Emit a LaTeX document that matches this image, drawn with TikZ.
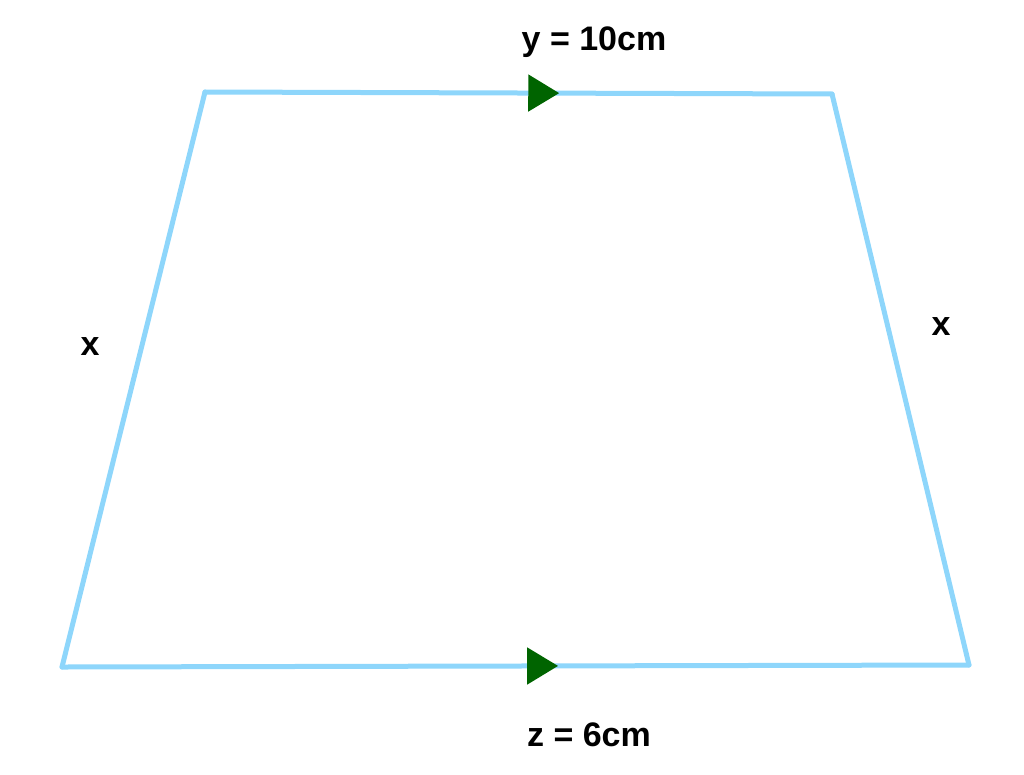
\documentclass[tikz,border=0pt]{standalone}
\usepackage{fontspec}
\setmainfont{Liberation Sans}
\usepackage{tikz}
\usetikzlibrary{arrows.meta, decorations.markings}
\definecolor{sideblue}{HTML}{8ED6FB}
\definecolor{markgreen}{HTML}{006400}
\tikzset{
	side/.style={draw=sideblue, line width=5pt, line cap=round},
	label/.style={font=\bfseries\fontsize{34}{40}\selectfont},
	parallel/.style={postaction={decorate, decoration={markings,
		mark=at position #1 with {\arrow[markgreen]{Triangle[length=31pt,width=36pt]}}}}}
}
\begin{document}
\begin{tikzpicture}[x=1pt, y=-1pt]
\useasboundingbox (0,0) rectangle (1024,774);
\coordinate (tl) at (205,92);
\coordinate (tr) at (832,94);
\coordinate (br) at (969,665);
\coordinate (bl) at (62,667);
\draw[side, parallel=0.565] (tl) -- (tr);
\draw[side] (tr) -- (br);
\draw[side, parallel=0.547] (bl) -- (br);
\draw[side] (bl) -- (tl);
\node[label] (top) at (594,42) {y = 10cm};
\node[label] (bottom) at (589,735) {z = 6cm};
\node[label] (left) at (90,347) {x};
\node[label] (right) at (941,327) {x};
\end{tikzpicture}
\end{document}
